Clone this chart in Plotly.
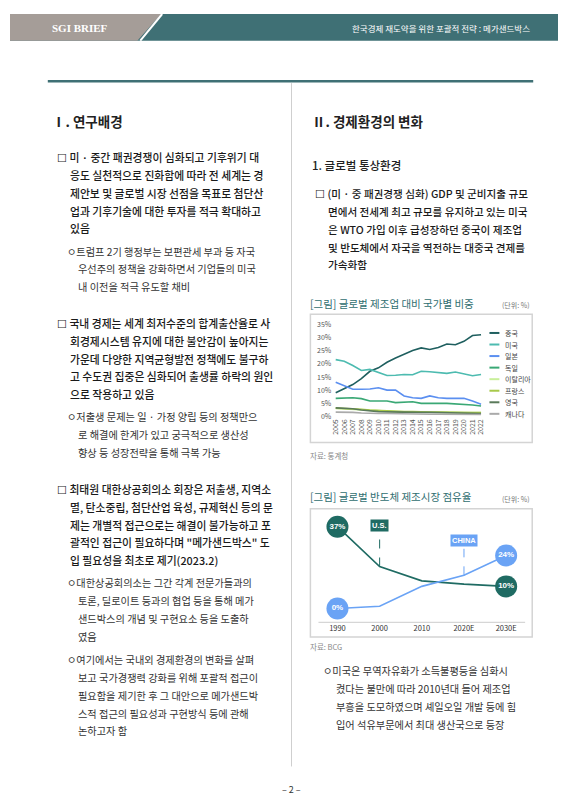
import plotly.graph_objects as go

W, H = 566, 800
def px(x): return x / W
def py(y): return 1 - y / H

# ---------- data ----------
years = list(range(2005, 2023))
china   = [9.1,10.7,12.2,14.4,17.2,18.5,20.6,22.2,23.7,25.0,26.0,25.4,26.2,27.5,27.2,28.5,30.7,31.0]
usa     = [21.6,21.0,19.4,17.5,17.9,16.6,15.6,15.7,16.0,15.9,17.2,17.0,16.6,16.4,16.9,16.2,15.5,16.0]
japan   = [13.1,11.6,10.4,10.4,10.5,11.0,10.1,10.1,7.9,7.2,7.0,7.9,7.2,7.0,7.0,7.0,6.0,4.8]
germany = [7.0,7.0,7.2,6.9,6.0,6.0,6.0,5.4,5.6,5.7,5.1,5.2,5.1,5.1,4.9,4.8,4.5,4.1]
italy   = [3.2,3.0,3.0,2.8,2.5,2.3,2.2,2.0,1.9,1.9,1.8,1.8,1.8,1.8,1.7,1.6,1.6,1.6]
france  = [3.3,3.2,3.2,2.9,2.6,2.4,2.3,2.1,2.0,2.0,1.8,1.8,1.8,1.7,1.7,1.6,1.6,1.6]
uk      = [3.4,3.2,3.1,2.6,2.2,2.0,1.9,1.8,1.8,1.8,1.7,1.7,1.6,1.5,1.5,1.4,1.4,1.3]
canada  = [1.8,1.8,1.7,1.5,1.3,1.3,1.3,1.2,1.2,1.1,1.0,1.0,1.0,1.0,1.0,0.9,0.9,0.9]
series_names = ["중국","미국","일본","독일","이탈리아","프랑스","영국","캐나다"]
series_vals = [china, usa, japan, germany, italy, france, uk, canada]
series_cols = ["#1f5f5f","#4dbbb0","#5b8ff0","#3aa875","#c9ef9a","#a8c94a","#5a7a5a","#aaaaaa"]
y_ticks = [0,5,10,15,20,25,30,35]

semi_x = ["1990","2000","2010","2020E","2030E"]
semi_us = [37,19,12.5,11,10]
semi_cn = [0,1,10,15,24]

FONT = "Noto Sans CJK KR"
fig = go.Figure()

for n, v, c in zip(series_names, series_vals, series_cols):
    fig.add_trace(go.Scatter(x=years, y=v, mode="lines", line=dict(color=c, width=1.6),
                             xaxis="x", yaxis="y", showlegend=False, name=n))
xi = list(range(len(semi_x)))
fig.add_trace(go.Scatter(x=xi, y=semi_us, mode="lines", line=dict(color="#1f6b63", width=1.6),
                         xaxis="x2", yaxis="y2", showlegend=False))
fig.add_trace(go.Scatter(x=xi, y=semi_cn, mode="lines", line=dict(color="#6aa3f5", width=1.6),
                         xaxis="x2", yaxis="y2", showlegend=False))
ends_x = [0, 4, 0, 4]
ends_y = [semi_us[0], semi_us[-1], semi_cn[0], semi_cn[-1]]
ends_c = ["#1f6b63","#1f6b63","#6aa3f5","#6aa3f5"]
fig.add_trace(go.Scatter(x=ends_x, y=ends_y, mode="markers+text",
                         marker=dict(size=22, color=ends_c),
                         text=[f"<b>{v:g}%</b>" for v in ends_y], textposition="middle center",
                         textfont=dict(color="white", size=8, family="Arial"),
                         xaxis="x2", yaxis="y2", showlegend=False, cliponaxis=False))

fig.update_layout(
    width=W, height=H, margin=dict(l=0, r=0, t=0, b=0),
    paper_bgcolor="white", plot_bgcolor="white",
    font=dict(family=FONT, color="#222"),
    xaxis=dict(domain=[px(324), px(477)], range=[2004.6, 2022.4], tickvals=years,
               tickangle=-90, tickfont=dict(size=7, color="#555"), showgrid=False,
               zeroline=False, showline=False, ticks=""),
    yaxis=dict(domain=[py(408), py(314)], range=[0, 35], tickvals=y_ticks,
               ticktext=[f"{t}%" for t in y_ticks], tickfont=dict(size=7, color="#555"),
               showgrid=False, zeroline=False, showline=False, ticks=""),
    xaxis2=dict(domain=[px(308), px(520)], range=[-0.5, 4.5], tickvals=xi, ticktext=semi_x,
                tickfont=dict(size=7.5, color="#333"), showgrid=False, zeroline=False,
                showline=False, ticks="", anchor="y2"),
    yaxis2=dict(domain=[py(616), py(508)], range=[-6.25, 42], visible=False, anchor="x2"),
)

shapes = []
ann = []
def T(x, y, s, size=10.5, color="#222", bold=False, xanchor="left", family=FONT, weight=None):
    f = dict(size=size, color=color, family=family)
    if weight: f["weight"] = weight
    ann.append(dict(x=px(x), y=py(y), xref="paper", yref="paper", text=(f"<b>{s}</b>" if bold else s),
                    showarrow=False, xanchor=xanchor, yanchor="middle", font=f))

# header
shapes.append(dict(type="rect", xref="paper", yref="paper", x0=0, x1=1, y0=py(27), y1=1,
                   fillcolor="#3f7075", line=dict(width=0), layer="below"))
shapes.append(dict(type="path", xref="paper", yref="paper",
                   path=f"M 0 1 L {px(152)} 1 L {px(128)} {py(27)} L 0 {py(27)} Z",
                   fillcolor="#a59d98", line=dict(width=0)))
shapes.append(dict(type="line", xref="paper", yref="paper", x0=px(153), y0=1, x1=px(131), y1=py(27),
                   line=dict(color="white", width=2)))
T(40, 14, "SGI BRIEF", 11, "white", True, family="Liberation Serif")
T(525, 14, "한국경제 재도약을 위한 포괄적 전략 : 메가샌드박스", 8.5, "white", xanchor="right")

shapes.append(dict(type="line", xref="paper", yref="paper", x0=px(38), x1=px(526), y0=py(68), y1=py(68),
                   line=dict(color="#3f7075", width=2.5)))
shapes.append(dict(type="line", xref="paper", yref="paper", x0=px(283), x1=px(283), y0=py(70), y1=py(762),
                   line=dict(color="#cfcfcf", width=1)))

# left column
T(40, 108, "Ⅰ. 연구배경", 13.5, "#222", True)
main_left = [
    (45, 145, "☐ 미 · 중간 패권경쟁이 심화되고 기후위기 대"),
    (58, 163, "응도 실천적으로 진화함에 따라 전 세계는 경"),
    (58, 181, "제안보 및 글로벌 시장 선점을 목표로 첨단산"),
    (58, 199, "업과 기후기술에 대한 투자를 적극 확대하고"),
    (58, 217, "있음"),
    (45, 313, "☐ 국내 경제는 세계 최저수준의 합계출산율로 사"),
    (58, 331, "회경제시스템 유지에 대한 불안감이 높아지는"),
    (58, 349, "가운데 다양한 지역균형발전 정책에도 불구하"),
    (58, 367, "고 수도권 집중은 심화되어 출생률 하락의 원인"),
    (58, 385, "으로 작용하고 있음"),
    (45, 481, "☐ 최태원 대한상공회의소 회장은 저출생, 지역소"),
    (58, 499, "멸, 탄소중립, 첨단산업 육성, 규제혁신 등의 문"),
    (58, 517, "제는 개별적 접근으로는 해결이 불가능하고 포"),
    (58, 535, "괄적인 접근이 필요하다며 \"메가샌드박스\" 도"),
    (58, 553, "입 필요성을 최초로 제기(2023.2)"),
]
sub_left = [
    (55, 240, "ㅇ트럼프 2기 행정부는 보편관세 부과 등 자국"),
    (66, 258, "우선주의 정책을 강화하면서 기업들의 미국"),
    (66, 276, "내 이전을 적극 유도할 채비"),
    (55, 408, "ㅇ저출생 문제는 일 · 가정 양립 등의 정책만으"),
    (66, 426, "로 해결에 한계가 있고 궁극적으로 생산성"),
    (66, 444, "향상 등 성장전략을 통해 극복 가능"),
    (55, 576, "ㅇ대한상공회의소는 그간 각계 전문가들과의"),
    (66, 594, "토론, 딜로이트 등과의 협업 등을 통해 메가"),
    (66, 612, "샌드박스의 개념 및 구현요소 등을 도출하"),
    (66, 630, "였음"),
    (55, 654, "ㅇ여기에서는 국내외 경제환경의 변화를 살펴"),
    (66, 672, "보고 국가경쟁력 강화를 위해 포괄적 접근이"),
    (66, 690, "필요함을 제기한 후 그 대안으로 메가샌드박"),
    (66, 708, "스적 접근의 필요성과 구현방식 등에 관해"),
    (66, 726, "논하고자 함"),
]
for x, y, s in main_left:
    T(x, y, s, 10.8, "#1a1a1a", weight=500)
for x, y, s in sub_left:
    T(x, y, s, 10.2, "#333")

# right column
T(302, 108, "Ⅱ. 경제환경의 변화", 13.5, "#222", True)
T(302, 153, "1. 글로벌 통상환경", 11.5, "#222", weight=500)
right = [
    (305, 182, "☐ (미 · 중 패권경쟁 심화) GDP 및 군비지출 규모"),
    (318, 200, "면에서 전세계 최고 규모를 유지하고 있는 미국"),
    (318, 218, "은 WTO 가입 이후 급성장하던 중국이 제조업"),
    (318, 236, "및 반도체에서 자국을 역전하는 대중국 견제를"),
    (318, 254, "가속화함"),
]
for x, y, s in right:
    T(x, y, s, 10.6, "#1a1a1a", weight=500)
right2 = [
    (313, 665, "ㅇ미국은 무역자유화가 소득불평등을 심화시"),
    (326, 683, "켰다는 불만에 따라 2010년대 들어 제조업"),
    (326, 701, "부흥을 도모하였으며 셰일오일 개발 등에 힘"),
    (326, 719, "입어 석유부문에서 최대 생산국으로 등장"),
]
for x, y, s in right2:
    T(x, y, s, 10.2, "#333")

for (t, b, title, y_t, src, y_s) in [(304, 434, "[그림] 글로벌 제조업 대비 국가별 비중", 293, "자료: 통계청", 447),
                                     (501, 631, "[그림] 글로벌 반도체 제조시장 점유율", 489, "자료: BCG", 641)]:
    shapes.append(dict(type="rect", xref="paper", yref="paper", x0=px(302), x1=px(525), y0=py(b), y1=py(t),
                       line=dict(color="#d4d4d4", width=1.5), layer="below"))
    T(300, y_t, title, 10.5, "#2f6e70")
    T(525, y_t + 2, "(단위: %)", 7, "#777", xanchor="right")
    T(300, y_s, src, 7.5, "#888")

for i, (n, c) in enumerate(zip(series_names, series_cols)):
    yy = 323 + i * 11.7
    shapes.append(dict(type="line", xref="paper", yref="paper", x0=px(482), x1=px(492), y0=py(yy), y1=py(yy),
                       line=dict(color=c, width=2)))
    T(496, yy, n, 7, "#444")

shapes.append(dict(type="line", xref="x2", yref="paper", x0=-0.45, x1=4.45, y0=py(616), y1=py(616),
                   line=dict(color="#cccccc", width=1)))
shapes.append(dict(type="line", xref="x2", yref="y2", x0=1, x1=1, y0=semi_us[1], y1=33.5,
                   line=dict(color="#1f6b63", width=1, dash="dash")))
shapes.append(dict(type="line", xref="x2", yref="y2", x0=3, x1=3, y0=semi_cn[3], y1=27,
                   line=dict(color="#6aa3f5", width=1, dash="dash")))
ann.append(dict(x=1, y=34.5, xref="x2", yref="y2", text="<b>U.S.</b>", showarrow=False, yanchor="bottom",
                bgcolor="#1f6b63", font=dict(color="white", size=7.5, family="Arial"), borderpad=1))
ann.append(dict(x=3, y=28, xref="x2", yref="y2", text="<b>CHINA</b>", showarrow=False, yanchor="bottom",
                bgcolor="#6aa3f5", font=dict(color="white", size=7.5, family="Arial"), borderpad=1))

T(283, 785, "– 2 –", 9, "#333", xanchor="center")

fig.update_layout(shapes=shapes, annotations=ann)
fig.write_html("out.html")
